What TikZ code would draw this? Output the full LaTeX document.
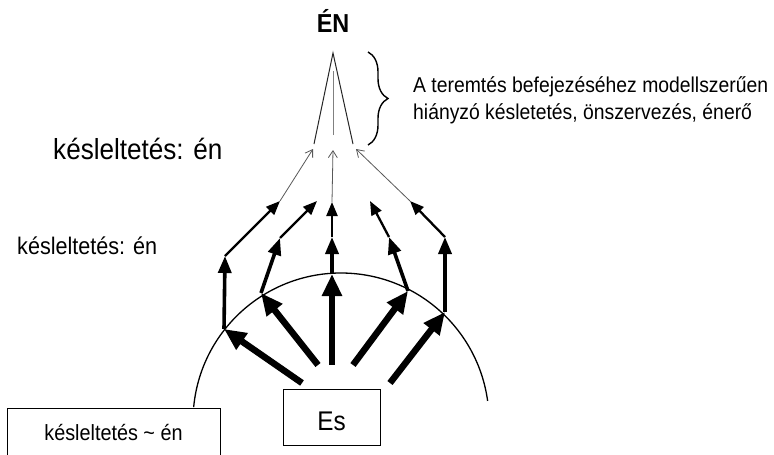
\documentclass[tikz,border=0pt]{standalone}
\usepackage{fontspec}
\setmainfont{Liberation Sans}[FakeStretch=0.9]
\usetikzlibrary{arrows.meta,decorations.pathreplacing}
\begin{document}
\begin{tikzpicture}[x=1pt,y=-1pt,
  lvlone/.style={line width=6.5pt,-{Triangle[length=22pt,width=19pt]}},
  lvltwo/.style={line width=3.6pt,-{Triangle[length=17pt,width=13pt]}},
  lvlthree/.style={line width=2.3pt,-{Triangle[length=14pt,width=11pt]}},
  lvlfour/.style={line width=0.8pt,draw=black!65,-{Straight Barb[length=7pt,width=9pt]}},
  lvlfive/.style={line width=1pt},
  boxed/.style={draw,line width=1.3pt,inner sep=0pt},
  txt/.style={anchor=base west,inner sep=0pt},
]
\clip (0,0) rectangle (774,455);
\fill[white] (0,0) rectangle (774,455);

% labels
\node[anchor=base,inner sep=0pt] (en) at (333,32) {\fontsize{26pt}{30pt}\selectfont\bfseries ÉN};
\node[txt] (bigl) at (53,159) {\fontsize{29pt}{34pt}\selectfont késleltetés: én};
\node[txt] (smalll) at (17,254) {\fontsize{24pt}{28pt}\selectfont késleltetés: én};
\node[txt] (note1) at (413,92) {\fontsize{21.5pt}{26pt}\selectfont A teremtés befejezéséhez modellszerűen};
\node[txt] (note2) at (413,119) {\fontsize{21.5pt}{26pt}\selectfont hiányzó késletetés, önszervezés, énerő};

% boxes
\node[boxed,anchor=north west,minimum width=213pt,minimum height=70pt] (delay) at (7,408) {};
\node[anchor=base,inner sep=0pt] (delaytxt) at (113.5,440) {\fontsize{22pt}{26pt}\selectfont késleltetés \textasciitilde{} én};
\node[boxed,anchor=north west,minimum width=97pt,minimum height=56pt] (es) at (283,389) {};
\node[anchor=base,inner sep=0pt] (estxt) at (331.5,430) {\fontsize{27pt}{31pt}\selectfont Es};

% circle arc
\coordinate (cc) at (341,421);
\draw[line width=1.3pt] (cc) ++(185.4:148) arc[start angle=185.4,end angle=352.2,radius=148];

% points
\coordinate (b1) at (302,383); \coordinate (b2) at (318,365); \coordinate (b3) at (332,365);
\coordinate (b4) at (353,365); \coordinate (b5) at (390,383);
\coordinate (p1) at (224,329); \coordinate (p2) at (261,293); \coordinate (p3) at (332,274);
\coordinate (p4) at (408,291); \coordinate (p5) at (445,312);
\coordinate (q1) at (225,256); \coordinate (q2) at (280,238); \coordinate (q3) at (332,237);
\coordinate (q4) at (389,237); \coordinate (q5) at (445,237);
\coordinate (r1) at (280,201); \coordinate (r2) at (317,201); \coordinate (r3) at (332,202);
\coordinate (r4) at (370,201); \coordinate (r5) at (410,201);
\coordinate (s1) at (313,149); \coordinate (s3) at (333,150); \coordinate (s5) at (356,149);
\coordinate (t1) at (314,144); \coordinate (t3) at (333,135); \coordinate (t5) at (353,144);
\coordinate (apex) at (333,53); \coordinate (t3top) at (333,71);

% level 1
\foreach \i in {1,...,5} \draw[lvlone] (b\i) -- (p\i);
% level 2
\foreach \i in {1,...,5} \draw[lvltwo] (p\i) -- (q\i);
% level 3
\foreach \i in {1,...,5} \draw[lvlthree] (q\i) -- (r\i);
% level 4
\draw[lvlfour] (r1) -- (s1);
\draw[lvlfour] (r3) -- (s3);
\draw[lvlfour] (r5) -- (s5);
% level 5
\draw[lvlfive,black!85] (t1) -- (apex) -- (t5);
\draw[lvlfive,black!50] (t3) -- (t3top);

% brace
\draw[line width=1.4pt,decorate,decoration={brace,amplitude=20pt}] (368,52) -- (368,145) coordinate[midway] (bracemid);
\end{tikzpicture}
\end{document}
